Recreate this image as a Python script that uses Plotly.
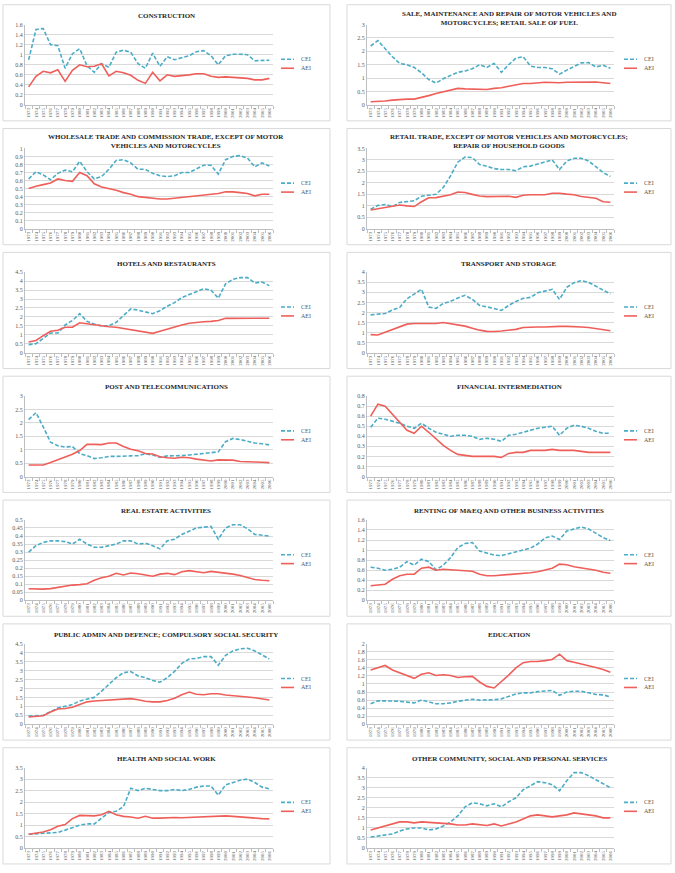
import plotly.graph_objects as go

W, H = 675, 873
years = [str(y) for y in range(1973, 2007)]

# ---------------- data ----------------
cei_construction = [0.9, 1.5, 1.52, 1.2, 1.18, 0.73, 1.02, 1.12, 0.78, 0.65, 0.82, 0.75, 1.05, 1.09, 1.05, 0.82, 0.73,
                    1.03, 0.77, 0.96, 0.9, 0.94, 0.98, 1.06, 1.08, 0.98, 0.8, 0.98, 1.01, 1.01, 1.0, 0.88, 0.88, 0.89]
aei_construction = [0.36, 0.57, 0.67, 0.64, 0.7, 0.47, 0.69, 0.8, 0.76, 0.77, 0.82, 0.58, 0.67, 0.64, 0.59, 0.49, 0.43,
                    0.65, 0.48, 0.6, 0.57, 0.58, 0.6, 0.62, 0.62, 0.57, 0.55, 0.56, 0.55, 0.53, 0.53, 0.5, 0.5, 0.53]

cei_sale = [2.2, 2.4, 2.1, 1.8, 1.55, 1.5, 1.4, 1.2, 0.95, 0.82, 0.98, 1.1, 1.22, 1.27, 1.35, 1.5, 1.4,
            1.55, 1.22, 1.5, 1.75, 1.8, 1.45, 1.4, 1.4, 1.35, 1.15, 1.3, 1.45, 1.57, 1.58, 1.42, 1.48, 1.37]
aei_sale = [0.12, 0.13, 0.15, 0.18, 0.21, 0.22, 0.22, 0.28, 0.35, 0.43, 0.5, 0.57, 0.62, 0.6, 0.6, 0.6, 0.58,
            0.62, 0.64, 0.7, 0.75, 0.8, 0.8, 0.82, 0.85, 0.84, 0.83, 0.85, 0.85, 0.84, 0.85, 0.86, 0.83, 0.8]

cei_wholesale = [0.62, 0.71, 0.67, 0.61, 0.69, 0.73, 0.71, 0.84, 0.71, 0.62, 0.65, 0.74, 0.85, 0.86, 0.82, 0.74, 0.74,
                 0.69, 0.66, 0.65, 0.66, 0.7, 0.7, 0.75, 0.79, 0.79, 0.68, 0.86, 0.9, 0.91, 0.88, 0.77, 0.82, 0.78]
aei_wholesale = [0.5, 0.53, 0.55, 0.57, 0.62, 0.6, 0.59, 0.7, 0.66, 0.56, 0.52, 0.5, 0.48, 0.45, 0.43, 0.4, 0.39,
                 0.38, 0.37, 0.37, 0.38, 0.39, 0.4, 0.41, 0.42, 0.43, 0.44, 0.46, 0.46, 0.45, 0.44, 0.41, 0.43, 0.43]

cei_retail = [0.85, 1.02, 1.06, 0.97, 1.15, 1.2, 1.22, 1.42, 1.45, 1.5, 1.8, 2.3, 2.9, 3.12, 3.1, 2.8, 2.72,
              2.62, 2.58, 2.58, 2.53, 2.7, 2.73, 2.82, 2.92, 3.0, 2.58, 2.95, 3.07, 3.07, 2.95, 2.7, 2.45, 2.28]
aei_retail = [0.82, 0.88, 0.92, 0.98, 1.04, 1.0, 0.97, 1.18, 1.35, 1.36, 1.42, 1.48, 1.6, 1.58, 1.5, 1.43, 1.4,
              1.4, 1.41, 1.42, 1.37, 1.46, 1.48, 1.47, 1.48, 1.55, 1.55, 1.51, 1.48, 1.41, 1.37, 1.33, 1.18, 1.16]

cei_hotels = [0.45, 0.5, 0.8, 1.1, 1.1, 1.55, 1.8, 2.18, 1.75, 1.6, 1.5, 1.5, 1.7, 2.05, 2.45, 2.38, 2.3,
              2.18, 2.35, 2.6, 2.8, 3.08, 3.25, 3.4, 3.58, 3.5, 3.05, 3.85, 4.1, 4.2, 4.2, 3.9, 3.95, 3.75]
aei_hotels = [0.6, 0.68, 0.95, 1.2, 1.25, 1.42, 1.42, 1.67, 1.62, 1.55, 1.5, 1.45, 1.42, 1.35, 1.28, 1.2, 1.12,
              1.08, 1.2, 1.33, 1.45, 1.55, 1.65, 1.7, 1.73, 1.75, 1.8, 1.92, 1.92, 1.92, 1.93, 1.92, 1.93, 1.93]

cei_transport = [1.88, 1.92, 1.95, 2.12, 2.25, 2.68, 2.92, 3.15, 2.27, 2.2, 2.45, 2.55, 2.72, 2.85, 2.65, 2.35, 2.28,
                 2.2, 2.1, 2.35, 2.55, 2.7, 2.75, 2.98, 3.08, 3.15, 2.65, 3.25, 3.48, 3.58, 3.5, 3.3, 3.12, 2.92]
aei_transport = [0.9, 0.88, 1.02, 1.15, 1.3, 1.42, 1.45, 1.45, 1.45, 1.45, 1.5, 1.45, 1.38, 1.32, 1.22, 1.12, 1.06,
                 1.05, 1.08, 1.13, 1.16, 1.25, 1.28, 1.28, 1.28, 1.31, 1.31, 1.31, 1.31, 1.28, 1.25, 1.2, 1.14, 1.09]

cei_post = [2.12, 2.38, 1.85, 1.28, 1.15, 1.1, 1.12, 0.85, 0.78, 0.67, 0.7, 0.75, 0.75, 0.77, 0.77, 0.78, 0.85,
            0.8, 0.72, 0.77, 0.77, 0.78, 0.8, 0.83, 0.87, 0.88, 0.92, 1.3, 1.42, 1.38, 1.32, 1.25, 1.22, 1.18]
aei_post = [0.43, 0.44, 0.43, 0.52, 0.62, 0.73, 0.83, 0.97, 1.2, 1.2, 1.19, 1.25, 1.25, 1.12, 1.02, 0.96, 0.86,
            0.84, 0.74, 0.7, 0.68, 0.72, 0.7, 0.65, 0.61, 0.58, 0.62, 0.62, 0.61, 0.56, 0.54, 0.54, 0.53, 0.52]

cei_financial = [0.49, 0.58, 0.57, 0.55, 0.53, 0.5, 0.48, 0.53, 0.48, 0.44, 0.42, 0.4, 0.41, 0.41, 0.4, 0.37, 0.38,
                 0.37, 0.35, 0.41, 0.42, 0.44, 0.46, 0.48, 0.49, 0.5, 0.41, 0.48, 0.51, 0.5, 0.48, 0.45, 0.43, 0.43]
aei_financial = [0.6, 0.72, 0.7, 0.62, 0.55, 0.46, 0.43, 0.5, 0.44, 0.37, 0.31, 0.26, 0.22, 0.21, 0.2, 0.2, 0.2,
                 0.2, 0.19, 0.23, 0.24, 0.24, 0.26, 0.26, 0.26, 0.27, 0.26, 0.26, 0.26, 0.25, 0.24, 0.24, 0.24, 0.24]

cei_realestate = [0.3, 0.34, 0.36, 0.37, 0.37, 0.365, 0.35, 0.38, 0.35, 0.33, 0.33, 0.34, 0.35, 0.37, 0.37, 0.35, 0.355,
                  0.34, 0.32, 0.37, 0.38, 0.41, 0.43, 0.45, 0.455, 0.46, 0.38, 0.45, 0.47, 0.47, 0.445, 0.41, 0.405, 0.4]
aei_realestate = [0.072, 0.07, 0.07, 0.073, 0.08, 0.09, 0.095, 0.098, 0.103, 0.125, 0.14, 0.15, 0.168, 0.158, 0.17,
                  0.165, 0.158, 0.15, 0.163, 0.168, 0.16, 0.178, 0.185, 0.18, 0.172, 0.18, 0.175, 0.168, 0.163, 0.155,
                  0.143, 0.13, 0.125, 0.122]

cei_renting = [0.66, 0.64, 0.6, 0.62, 0.66, 0.77, 0.7, 0.82, 0.77, 0.61, 0.7, 0.85, 1.05, 1.13, 1.15, 0.98, 0.94,
               0.9, 0.89, 0.93, 0.96, 1.0, 1.04, 1.12, 1.24, 1.28, 1.21, 1.38, 1.42, 1.46, 1.42, 1.33, 1.25, 1.19]
aei_renting = [0.29, 0.3, 0.32, 0.42, 0.49, 0.52, 0.52, 0.64, 0.66, 0.6, 0.62, 0.61, 0.6, 0.6, 0.58, 0.52, 0.49,
               0.49, 0.5, 0.51, 0.52, 0.54, 0.55, 0.57, 0.61, 0.64, 0.72, 0.71, 0.67, 0.65, 0.62, 0.6, 0.56, 0.54]

cei_public = [0.45, 0.47, 0.5, 0.7, 0.9, 1.0, 1.1, 1.3, 1.4, 1.5, 1.85, 2.2, 2.6, 2.88, 2.95, 2.7, 2.6,
              2.45, 2.35, 2.6, 2.95, 3.4, 3.65, 3.68, 3.78, 3.78, 3.3, 3.85, 4.1, 4.22, 4.25, 4.1, 3.88, 3.65]
aei_public = [0.4, 0.42, 0.47, 0.68, 0.85, 0.88, 0.95, 1.1, 1.25, 1.3, 1.33, 1.33, 1.37, 1.42, 1.43, 1.37, 1.28,
              1.25, 1.25, 1.33, 1.45, 1.65, 1.8, 1.68, 1.65, 1.7, 1.7, 1.63, 1.58, 1.55, 1.52, 1.48, 1.4, 1.35]

cei_education = [0.51, 0.58, 0.58, 0.58, 0.57, 0.55, 0.53, 0.6, 0.55, 0.51, 0.51, 0.53, 0.57, 0.6, 0.62, 0.6, 0.6,
                 0.61, 0.63, 0.7, 0.75, 0.78, 0.78, 0.81, 0.82, 0.84, 0.72, 0.8, 0.82, 0.82, 0.78, 0.74, 0.73, 0.68]
aei_education = [1.35, 1.4, 1.46, 1.35, 1.28, 1.2, 1.14, 1.24, 1.28, 1.21, 1.23, 1.21, 1.16, 1.18, 1.19, 1.05, 0.94,
                 0.9, 1.05, 1.22, 1.4, 1.53, 1.56, 1.56, 1.58, 1.61, 1.74, 1.58, 1.54, 1.5, 1.46, 1.41, 1.36, 1.29]

cei_health = [0.6, 0.62, 0.62, 0.63, 0.68, 0.78, 0.9, 1.0, 1.05, 1.05, 1.3, 1.55, 1.6, 1.8, 2.6, 2.5, 2.6,
              2.55, 2.5, 2.5, 2.55, 2.5, 2.55, 2.65, 2.7, 2.7, 2.3, 2.75, 2.85, 2.95, 3.0, 2.85, 2.65, 2.58]
aei_health = [0.6, 0.65, 0.7, 0.8, 0.95, 1.02, 1.28, 1.42, 1.4, 1.4, 1.45, 1.6, 1.45, 1.38, 1.35, 1.3, 1.38,
              1.3, 1.3, 1.32, 1.33, 1.32, 1.33, 1.35, 1.38, 1.38, 1.38, 1.4, 1.38, 1.35, 1.35, 1.32, 1.28, 1.27]

cei_other = [0.55, 0.6, 0.65, 0.7, 0.85, 0.95, 1.0, 1.0, 0.9, 0.95, 1.1, 1.3, 1.6, 2.05, 2.25, 2.2, 2.1,
             2.2, 2.05, 2.3, 2.5, 2.9, 3.1, 3.3, 3.25, 3.15, 2.85, 3.35, 3.75, 3.75, 3.6, 3.4, 3.2, 3.0]
aei_other = [0.9, 1.0, 1.1, 1.2, 1.3, 1.3, 1.25, 1.3, 1.28, 1.25, 1.25, 1.2, 1.15, 1.15, 1.2, 1.15, 1.12,
             1.2, 1.1, 1.2, 1.3, 1.45, 1.6, 1.65, 1.6, 1.55, 1.6, 1.65, 1.75, 1.7, 1.65, 1.6, 1.5, 1.5]

titles = [
    "CONSTRUCTION",
    "SALE, MAINTENANCE AND REPAIR OF MOTOR VEHICLES AND<br>MOTORCYCLES; RETAIL SALE OF FUEL",
    "WHOLESALE TRADE AND COMMISSION TRADE, EXCEPT OF MOTOR<br>VEHICLES AND MOTORCYCLES",
    "RETAIL TRADE, EXCEPT OF MOTOR VEHICLES AND MOTORCYCLES;<br>REPAIR OF HOUSEHOLD GOODS",
    "HOTELS AND RESTAURANTS",
    "TRANSPORT AND STORAGE",
    "POST AND TELECOMMUNICATIONS",
    "FINANCIAL INTERMEDIATION",
    "REAL ESTATE ACTIVITIES",
    "RENTING OF M&EQ AND OTHER BUSINESS ACTIVITIES",
    "PUBLIC ADMIN AND DEFENCE; COMPULSORY SOCIAL SECURITY",
    "EDUCATION",
    "HEALTH AND SOCIAL WORK",
    "OTHER COMMUNITY, SOCIAL AND PERSONAL SERVICES",
]
cei_series = [cei_construction, cei_sale, cei_wholesale, cei_retail, cei_hotels, cei_transport, cei_post,
              cei_financial, cei_realestate, cei_renting, cei_public, cei_education, cei_health, cei_other]
aei_series = [aei_construction, aei_sale, aei_wholesale, aei_retail, aei_hotels, aei_transport, aei_post,
              aei_financial, aei_realestate, aei_renting, aei_public, aei_education, aei_health, aei_other]
y_max = [1.6, 3, 1, 3.5, 4.5, 4, 3, 0.8, 0.5, 1.6, 4.5, 2, 3.5, 4]
y_step = [0.2, 0.5, 0.1, 0.5, 0.5, 0.5, 0.5, 0.1, 0.05, 0.2, 0.5, 0.2, 0.5, 0.5]

# ---------------- styling ----------------
BLUE = "#4BACC6"
RED = "#EF5F5A"
GRID = "#D9D9D9"
TXT = "#595959"
FONT = "Liberation Serif"

def px(x):
    return x / W

def py(y):
    return 1 - y / H

fig = go.Figure()
layout = dict(width=W, height=H, margin=dict(l=0, r=0, t=0, b=0),
              paper_bgcolor="white", plot_bgcolor="white", showlegend=False,
              font=dict(family=FONT, color=TXT))
shapes, annots = [], []

plot_x = [(25, 273), (367, 614)]
box_x = [(3, 330), (347, 671)]
leg_x = [(281, 294, 299), (624, 637, 642)]
title_cx = [166, 509]

for k in range(14):
    row, col = divmod(k, 2)
    n = k + 1
    top = 21.7 + 124.7 * row
    bot = top + 81
    xa = "xaxis" if n == 1 else f"xaxis{n}"
    ya = "yaxis" if n == 1 else f"yaxis{n}"
    xr = "x" if n == 1 else f"x{n}"
    yr = "y" if n == 1 else f"y{n}"

    # panel border
    shapes.append(dict(type="rect", xref="paper", yref="paper", layer="below",
                       x0=px(box_x[col][0]), x1=px(box_x[col][1]), y0=py(top + 97), y1=py(top - 20),
                       line=dict(color=GRID, width=1), fillcolor="white"))

    fig.add_trace(go.Scatter(x=years, y=cei_series[k], xaxis=xr, yaxis=yr, mode="lines", name="CEI",
                             line=dict(color=BLUE, width=1.6, dash="4px,2px")))
    fig.add_trace(go.Scatter(x=years, y=aei_series[k], xaxis=xr, yaxis=yr, mode="lines", name="AEI",
                             line=dict(color=RED, width=1.6)))

    layout[xa] = dict(domain=[px(plot_x[col][0]), px(plot_x[col][1])], anchor=yr, type="category",
                      range=[-0.5, 33.5], tickangle=-90, tickfont=dict(size=5, family=FONT, color=TXT),
                      showgrid=False, showline=True, linecolor="#BFBFBF", linewidth=1,
                      ticks="outside", tickson="boundaries", ticklen=3, tickcolor="#BFBFBF",
                      fixedrange=True)
    layout[ya] = dict(domain=[py(bot), py(top)], anchor=xr, range=[0, y_max[k]], tick0=0, dtick=y_step[k],
                      showgrid=True, gridcolor=GRID, gridwidth=1, zeroline=False,
                      showline=True, linecolor="#BFBFBF", linewidth=1,
                      tickfont=dict(size=6, family=FONT, color=TXT), ticks="", fixedrange=True)

    # title
    two_line = "<br>" in titles[k]
    annots.append(dict(xref="paper", yref="paper", x=px(title_cx[col]),
                       y=py(top - (6.5 if two_line else 8.7)), xanchor="center", yanchor="middle",
                       text=f"<b>{titles[k]}</b>", showarrow=False,
                       font=dict(size=7, family=FONT, color="#262626")))

    # manual legend
    for j, (name, color, dash) in enumerate([("CEI", BLUE, "4px,2px"), ("AEI", RED, "solid")]):
        yy = py(top + 35 + 9 * j)
        shapes.append(dict(type="line", xref="paper", yref="paper",
                           x0=px(leg_x[col][0]), x1=px(leg_x[col][1]), y0=yy, y1=yy,
                           line=dict(color=color, width=1.6, dash=dash)))
        annots.append(dict(xref="paper", yref="paper", x=px(leg_x[col][2]), y=yy,
                           xanchor="left", yanchor="middle", text=name, showarrow=False,
                           font=dict(size=6, family=FONT, color=TXT)))

layout["shapes"] = shapes
layout["annotations"] = annots
fig.update_layout(**layout)
fig.write_html("out.html")
